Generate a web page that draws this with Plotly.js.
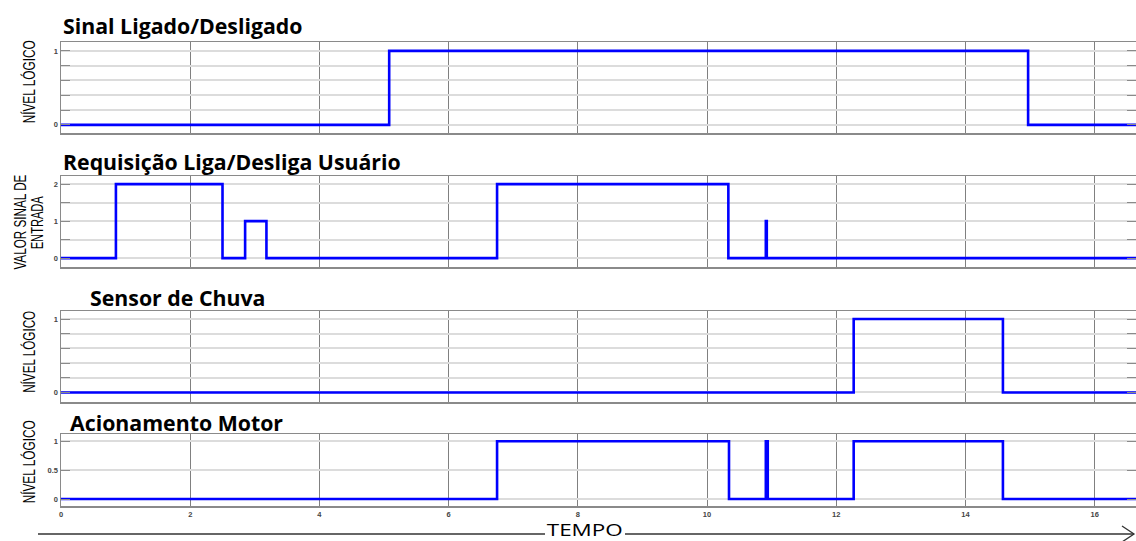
<!DOCTYPE html>
<html>
<head>
<meta charset="utf-8">
<script src="https://cdn.plot.ly/plotly-3.0.1.min.js"></script>
<style>
  html, body { margin: 0; padding: 0; background: #fff; }
  #chart { width: 1136px; height: 541px; }
</style>
</head>
<body>
<div id="chart"></div>
<script>
// Step signals: switching instants (s) and the level held from each instant on
const sinalTempo = [0, 5.08, 14.97, 16.64];
const sinalNivel = [0, 1, 0, 0];

const requisicaoTempo = [0, 0.85, 2.50, 2.85, 3.18, 6.75, 10.33, 10.91, 10.925, 16.64];
const requisicaoValor = [0, 2, 0, 1, 0, 2, 0, 1, 0, 0];

const chuvaTempo = [0, 12.27, 14.58, 16.64];
const chuvaNivel = [0, 1, 0, 0];

const motorTempo = [0, 6.75, 10.34, 10.91, 10.94, 12.27, 14.58, 16.64];
const motorNivel = [0, 1, 0, 1, 0, 1, 0, 0];

// Axis ticks
const tempoTicks = [0, 2, 4, 6, 8, 10, 12, 14, 16];
const logicoVals = [0, 0.2, 0.4, 0.6, 0.8, 1];
const logicoText = ['0', '', '', '', '', '1'];
const entradaVals = [0, 0.5, 1, 1.5, 2];
const entradaText = ['0', '', '1', '', '2'];
const motorVals = [0, 0.5, 1];
const motorText = ['0', '0.5', '1'];

// Texts
const titulos = ['Sinal Ligado/Desligado', 'Requisição Liga/Desliga Usuário', 'Sensor de Chuva', 'Acionamento Motor'];
const eixoY = ['NÍVEL LÓGICO', 'VALOR SINAL DE', 'ENTRADA', 'NÍVEL LÓGICO', 'NÍVEL LÓGICO'];
const eixoX = 'TEMPO';

const W = 1136, H = 541, L = 61;
const py = p => 1 - p / H;            // pixel row -> paper y
const px = p => (p - L) / (W - L);    // pixel column -> paper x

const azul = '#0000ff';
const traco = (x, y, i) => ({
  x: x, y: y, type: 'scatter', mode: 'lines',
  line: { shape: 'hv', color: azul, width: 2.6 },
  xaxis: i === 1 ? 'x' : 'x' + i, yaxis: i === 1 ? 'y' : 'y' + i,
  hoverinfo: 'skip', showlegend: false
});

const data = [
  traco(sinalTempo, sinalNivel, 1),
  traco(requisicaoTempo, requisicaoValor, 2),
  traco(chuvaTempo, chuvaNivel, 3),
  traco(motorTempo, motorNivel, 4)
];

const tickFont = { family: 'Liberation Sans, Arial, sans-serif', size: 7.5, color: '#444', weight: 'bold' };

function xAxis(anchor, labels) {
  return {
    anchor: anchor, domain: [0, 1], range: [0, 16.64],
    tickvals: tempoTicks, showticklabels: labels, tickfont: tickFont,
    ticks: '', showgrid: true, gridcolor: '#808080', gridwidth: 1,
    showline: true, linecolor: '#8a8a8a', linewidth: 1.5, mirror: true,
    zeroline: false, fixedrange: true
  };
}
function yAxis(anchor, dom, range, vals, text) {
  return {
    anchor: anchor, domain: dom, range: range,
    tickvals: vals, ticktext: text, tickfont: tickFont,
    ticks: 'inside', ticklen: 9, tickwidth: 1, tickcolor: '#8a8a8a',
    showgrid: true, gridcolor: '#dcdcdc', gridwidth: 2,
    showline: true, linecolor: '#8a8a8a', linewidth: 1.5, mirror: 'ticks',
    zeroline: false, fixedrange: true
  };
}

const paineis = [
  { top: 42, bot: 133, range: [-0.11, 1.12], vals: logicoVals, text: logicoText },
  { top: 176, bot: 267, range: [-0.24, 2.22], vals: entradaVals, text: entradaText },
  { top: 311, bot: 402, range: [-0.13, 1.11], vals: logicoVals, text: logicoText },
  { top: 434, bot: 506, range: [-0.12, 1.126], vals: motorVals, text: motorText }
];

const layout = {
  width: W, height: H,
  margin: { l: L, r: 0, t: 0, b: 0, pad: 0 },
  paper_bgcolor: '#fff', plot_bgcolor: '#fff',
  showlegend: false,
  annotations: [], shapes: []
};

paineis.forEach((p, k) => {
  const i = k + 1;
  const xs = i === 1 ? 'x' : 'x' + i, ys = i === 1 ? 'y' : 'y' + i;
  layout[i === 1 ? 'xaxis' : 'xaxis' + i] = xAxis(ys, i === 4);
  layout[i === 1 ? 'yaxis' : 'yaxis' + i] = yAxis(xs, [py(p.bot), py(p.top)], p.range, p.vals, p.text);
});

// Panel headings
const tituloPos = [[61, 26], [61, 161], [88, 297], [68, 422]];
titulos.forEach((t, k) => {
  layout.annotations.push({
    text: '<b>' + t + '</b>', xref: 'paper', yref: 'paper',
    x: px(tituloPos[k][0]), y: py(tituloPos[k][1]), xanchor: 'left', yanchor: 'middle',
    showarrow: false, font: { family: 'Open Sans, sans-serif', size: 21.3, color: '#000' }
  });
});

// Vertical axis titles (condensed to the narrow lettering)
const eixoPos = [[29, 82, 83], [20, 222, 95], [37, 223, 53], [29, 352, 82], [29, 462, 83]];
const condensar = [];
eixoY.forEach((t, k) => {
  condensar.push([layout.annotations.length, eixoPos[k][2]]);
  layout.annotations.push({
    text: t, xref: 'paper', yref: 'paper', textangle: -90,
    x: px(eixoPos[k][0]), y: py(eixoPos[k][1]), xanchor: 'center', yanchor: 'middle',
    showarrow: false,
    font: { family: 'Liberation Sans, Arial, sans-serif', size: 16, color: '#000' }
  });
});

// Time arrow under the panels, interrupted by its label
const yArrow = py(534);
const setaLinha = { color: '#333', width: 1.3 };
layout.shapes.push({
  type: 'line', xref: 'paper', yref: 'paper',
  x0: px(38), x1: px(545), y0: yArrow, y1: yArrow, line: setaLinha
});
layout.shapes.push({
  type: 'line', xref: 'paper', yref: 'paper',
  x0: px(625), x1: px(1134), y0: yArrow, y1: yArrow, line: setaLinha
});
layout.shapes.push({
  type: 'path', xref: 'paper', yref: 'paper',
  path: 'M ' + px(1122) + ' ' + py(526) + ' L ' + px(1134) + ' ' + yArrow + ' L ' + px(1122) + ' ' + py(542),
  line: setaLinha
});
condensar.push([layout.annotations.length, 76]);
layout.annotations.push({
  text: eixoX, xref: 'paper', yref: 'paper',
  x: px(585), y: py(529.5), xanchor: 'center', yanchor: 'middle',
  showarrow: false,
  font: { family: 'Open Sans, sans-serif', size: 17, color: '#000' }
});

Plotly.newPlot('chart', data, layout, { displayModeBar: false, staticPlot: true }).then(() => {
  condensar.forEach(([idx, len]) => {
    const t = document.querySelector('#chart .annotation[data-index="' + idx + '"] text.annotation-text');
    if (!t) return;
    t.setAttribute('textLength', len);
    t.setAttribute('lengthAdjust', 'spacingAndGlyphs');
  });
});
</script>
</body>
</html>
